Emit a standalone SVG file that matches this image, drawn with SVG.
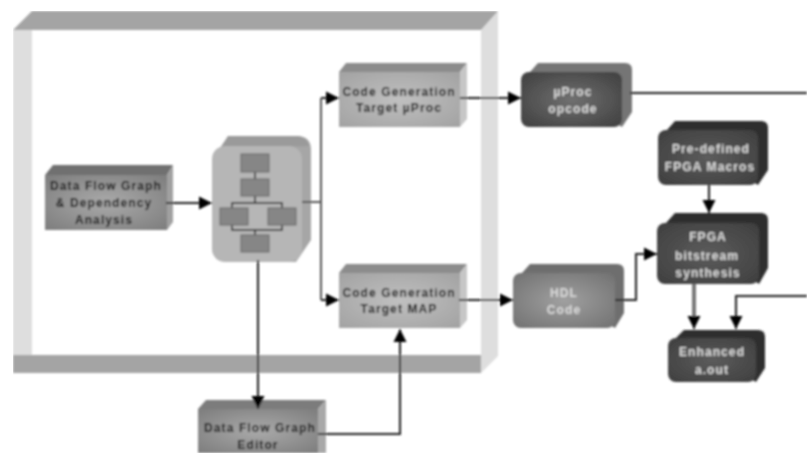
<svg xmlns="http://www.w3.org/2000/svg" width="807" height="453" viewBox="0 0 807 453">
<defs>
<radialGradient id="gl" cx="50%" cy="50%" r="65%"><stop offset="0" stop-color="#c0c0c0"/><stop offset="1" stop-color="#a4a4a4"/></radialGradient>
<radialGradient id="gm" cx="50%" cy="50%" r="65%"><stop offset="0" stop-color="#aaaaaa"/><stop offset="1" stop-color="#808080"/></radialGradient>
<radialGradient id="gh" cx="50%" cy="50%" r="65%"><stop offset="0" stop-color="#a0a0a0"/><stop offset="1" stop-color="#747474"/></radialGradient>
<radialGradient id="gd" cx="50%" cy="50%" r="60%"><stop offset="0" stop-color="#707070"/><stop offset="1" stop-color="#454545"/></radialGradient>
<radialGradient id="gk" cx="50%" cy="50%" r="65%"><stop offset="0" stop-color="#5c5c5c"/><stop offset="1" stop-color="#404040"/></radialGradient>
<filter id="soft" x="0" y="0" width="100%" height="100%"><feGaussianBlur stdDeviation="0.85"/></filter>
<marker id="arr" markerUnits="userSpaceOnUse" markerWidth="15" markerHeight="15" refX="14" refY="7.5" orient="auto"><path d="M1 1 L14 7.5 L1 14 Z" fill="#000"/></marker>
</defs>
<style>
text{font-family:"Liberation Sans",Arial,sans-serif;font-weight:bold;font-size:12px;letter-spacing:1.1px;text-anchor:middle;fill:#111}
text.lt{fill:#dcdcdc}
.c{fill:none;stroke:#222;stroke-width:2}
.a{marker-end:url(#arr)}
.sb{fill:#868686;stroke:#666;stroke-width:1}
.sl{fill:none;stroke:#222;stroke-width:1.5}
</style>
<rect width="807" height="453" fill="#fff"/>
<g filter="url(#soft)">
<g id="frame">
<polygon points="13,30 32,30 32,373 13,373" fill="#dedede"/>
<polygon points="481,30 498,11 498,356 481,373" fill="#dedede"/>
<polygon points="13,30 32,11 498,11 481,30" fill="#a4a4a4"/>
<rect x="13" y="355" width="468" height="18" fill="#a4a4a4"/>
</g>
<g id="dfg">
<polygon points="45,175 53,165 173,165 167,175" fill="#707070"/>
<polygon points="167,175 173,165 173,222 167,230" fill="#a0a0a0"/>
<rect x="45" y="175" width="122" height="55" fill="url(#gm)"/>
<text x="106" y="190">Data Flow Graph</text>
<text x="104" y="207">&amp; Dependency</text>
<text x="104" y="224">Analysis</text>
</g>
<g id="center">
<path d="M222 150 L228 136 H297 Q311 136 311 150 V240 L296 262 H270 V150 Z" fill="#a6a6a6"/>
<path d="M220 148 L228 136 H297 Q306 136 309 146 Z" fill="#9a9a9a"/>
<rect x="212" y="146" width="90" height="116" rx="13" fill="#b6b6b6"/>
<path class="sl" d="M255 172 V179 M255 196 V203 M232 208 V203 H282 V208 M232 225 V230 H282 V225 M255 230 V235"/>
<rect class="sb" x="241" y="154" width="28" height="18"/>
<rect class="sb" x="241" y="179" width="28" height="17"/>
<rect class="sb" x="220" y="208" width="28" height="17"/>
<rect class="sb" x="268" y="208" width="28" height="17"/>
<rect class="sb" x="241" y="235" width="28" height="17"/>
</g>
<g id="uproc">
<polygon points="339,72 346,63 467,63 460,72" fill="#8c8c8c"/>
<polygon points="460,72 467,63 467,119 460,127" fill="#c6c6c6"/>
<rect x="339" y="72" width="121" height="55" fill="url(#gl)"/>
<text x="399" y="96">Code Generation</text>
<text x="399" y="112">Target µProc</text>
</g>
<g id="map">
<polygon points="339,273 346,264 467,264 460,273" fill="#8c8c8c"/>
<polygon points="460,273 467,264 467,320 460,328" fill="#c6c6c6"/>
<rect x="339" y="273" width="121" height="55" fill="url(#gl)"/>
<text x="399" y="297">Code Generation</text>
<text x="399" y="313">Target MAP</text>
</g>
<g id="editor">
<polygon points="198,409 206,400 326,400 318,409" fill="#7c7c7c"/>
<polygon points="318,409 326,400 326,453 318,453" fill="#a8a8a8"/>
<rect x="198" y="409" width="120" height="44" fill="url(#gm)"/>
<text x="260" y="432">Data Flow Graph</text>
<text x="258" y="449">Editor</text>
</g>
<g id="opcode">
<path d="M530 72 L538 63 H625 Q632 63 632 70 V112 L622 127 Z" fill="#757575"/>
<rect x="521" y="72" width="101" height="55" rx="8" fill="url(#gd)"/>
<text x="573" y="96" class="lt">µProc</text>
<text x="573" y="113" class="lt">opcode</text>
</g>
<g id="macros">
<path d="M667 130 L675 121 H761 Q768 121 768 128 V170 L758 185 Z" fill="#2e2e2e"/>
<rect x="658" y="130" width="100" height="55" rx="8" fill="url(#gk)"/>
<text x="711" y="153" class="lt">Pre-defined</text>
<text x="710" y="171" class="lt">FPGA Macros</text>
</g>
<g id="fpga">
<path d="M666 223 L675 213 H761 Q768 213 768 220 V268 L759 284 Z" fill="#2e2e2e"/>
<rect x="657" y="223" width="102" height="61" rx="8" fill="url(#gk)"/>
<text x="708" y="241" class="lt">FPGA</text>
<text x="707" y="260" class="lt">bitstream</text>
<text x="708" y="277" class="lt">synthesis</text>
</g>
<g id="hdl">
<path d="M522 273 L530 264 H617 Q624 264 624 271 V313 L615 328 Z" fill="#6e6e6e"/>
<rect x="513" y="273" width="102" height="55" rx="8" fill="url(#gh)"/>
<text x="564" y="297" class="lt">HDL</text>
<text x="564" y="314" class="lt">Code</text>
</g>
<g id="aout">
<path d="M676 338 L684 330 H758 Q765 330 765 337 V368 L756 382 Z" fill="#2e2e2e"/>
<rect x="668" y="338" width="88" height="44" rx="8" fill="url(#gk)"/>
<text x="712" y="356" class="lt">Enhanced</text>
<text x="712" y="374" class="lt">a.out</text>
</g>
<g id="connectors">
<path class="c a" d="M166 203 H212"/>
<path d="M302 202 H321 M321 202 V98 M321 202 V300" fill="none" stroke="#555" stroke-width="2"/>
<path class="c a" d="M321 98 H339"/>
<path class="c a" d="M321 300 H339"/>
<path class="c a" d="M460 98 H521"/>
<path class="c" d="M630 93 H807"/>
<path class="c a" d="M258 260 V409"/>
<path class="c a" d="M318 434 H400 V329"/>
<path class="c a" d="M459 300 H513"/>
<path class="c a" d="M615 300 H636 V254 H657"/>
<path class="c a" d="M709 185 V213"/>
<path d="M694 284 V320" fill="none" stroke="#777" stroke-width="4"/>
<path class="c a" d="M694 316 V329"/>
<path class="c a" d="M807 296 H736 V329"/>
</g>
</g>
</svg>
